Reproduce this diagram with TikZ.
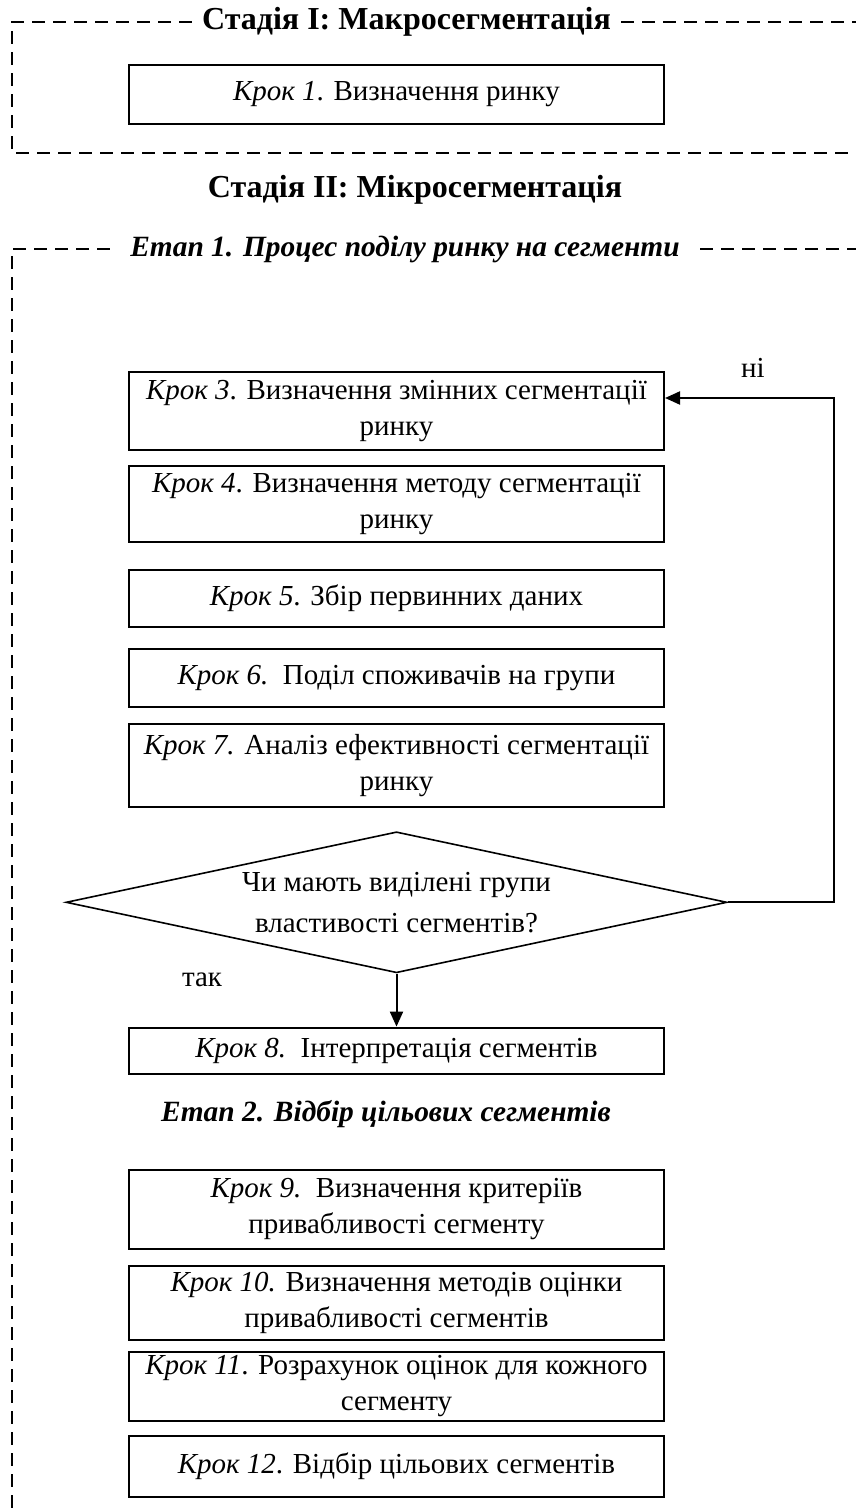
\documentclass[tikz,border=0pt]{standalone}
\usepackage{fontspec}
\setmainfont{Liberation Serif}
\usetikzlibrary{arrows.meta}
\usetikzlibrary{positioning}
\usetikzlibrary{shapes.geometric}
\tikzstyle{krok} = [draw,line width=1pt,minimum width=267.5pt,align=center,inner xsep=2pt,inner ysep=1pt,font=\fontsize{14.5}{18}\selectfont]
\tikzstyle{frame} = [line width=1pt,dash pattern=on 6.5pt off 4pt]
\tikzstyle{stage} = [inner xsep=5pt,font=\fontsize{16}{18}\selectfont\bfseries]
\tikzstyle{etap} = [inner xsep=10pt,font=\fontsize{14.7}{18}\selectfont\bfseries\itshape]
\tikzstyle{arrow} = [line width=1pt,-{Triangle[length=7.5pt,width=6.5pt]}]

\begin{document}
\begin{tikzpicture}[x=0.5pt,y=-0.5pt]
\useasboundingbox (0,0) rectangle (856,1508);
\node[stage] (st1) at (406.5,22) {Стадія I: Макросегментація};
\node[krok,minimum height=29.5pt] (k1) at (396.5,94.5) {\textit{Крок 1}. Визначення ринку};
\node[stage] (st2) at (415,190) {Стадія II: Мікросегментація};
\node[etap] (et1) at (405,249) {Етап 1. Процес поділу ринку на сегменти};
\node[krok,minimum height=39pt] (k3) at (396.5,411) {\textit{Крок 3}. Визначення змінних сегментації\\ринку};
\node[krok,minimum height=38pt,below=7pt of k3] (k4) {\textit{Крок 4}. Визначення методу сегментації\\ринку};
\node[krok,minimum height=28.5pt,below=13pt of k4] (k5) {\textit{Крок 5}. Збір первинних даних};
\node[krok,minimum height=29pt,below=10pt of k5] (k6) {\textit{Крок 6.}\ \ Поділ споживачів на групи};
\node[krok,minimum height=41.5pt,below=7.5pt of k6] (k7) {\textit{Крок 7.} Аналіз ефективності сегментації\\ринку};
\node[draw,diamond,aspect=4.69,line width=0.8pt,minimum width=330.5pt,minimum height=70.5pt,inner sep=0pt,align=center,font=\fontsize{14.5}{20.5}\selectfont,below=11.5pt of k7] (dec) {Чи мають виділені групи\\властивості сегментів?};
\node[krok,minimum height=23pt,below=26.5pt of dec] (k8) {\textit{Крок 8.}\ \ Інтерпретація сегментів};
\node[etap] (et2) at (386,1114) {Етап 2. Відбір цільових сегментів};
\node[krok,minimum height=39.5pt] (k9) at (396.5,1209.5) {\textit{Крок 9.}\ \ Визначення критеріїв\\привабливості сегменту};
\node[krok,minimum height=37pt,below=7.5pt of k9] (k10) {\textit{Крок 10.} Визначення методів оцінки\\привабливості сегментів};
\node[krok,minimum height=34.5pt,below=5pt of k10] (k11) {\textit{Крок 11}. Розрахунок оцінок для кожного\\сегменту};
\node[krok,minimum height=30.5pt,below=6.5pt of k11] (k12) {\textit{Крок 12}. Відбір цільових сегментів};
\node[font=\fontsize{14.5}{18}\selectfont] (ni) at (753,368) {ні};
\node[font=\fontsize{14.5}{18}\selectfont] (tak) at (202,980) {так};

\draw[frame] (st1.west) -- (12,22) -- (12,153) -- (856,153);
\draw[frame] (st1.east) -- (856,22);
\draw[frame] (et1.west) -- (12,249) -- (12,1508);
\draw[frame] (et1.east) -- (856,249);
\draw[arrow] (dec.east) -- ++(53pt,0) |- ([yshift=6.5pt]k3.east);
\draw[arrow] (dec.south) -- (k8.north);
\end{tikzpicture}
\end{document}
